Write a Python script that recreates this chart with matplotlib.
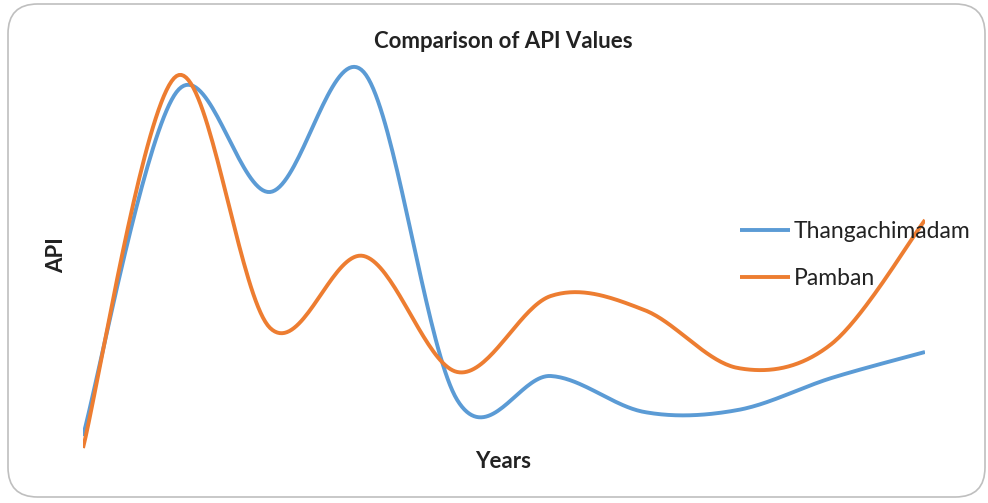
import matplotlib
matplotlib.use("Agg")
import matplotlib.pyplot as plt
import numpy as np
from matplotlib.patches import FancyBboxPatch

plt.rcParams['font.family'] = ['Lato', 'DejaVu Sans']

# valores (unidades arbitrárias de API)
anos = np.arange(10)
thangachimadam = [6, 92, 67, 97, 15, 21, 12, 12.5, 20.5, 27]
pamban = [3, 96, 33, 51, 22, 41, 37.5, 23, 29, 60]


def suavizar(x, y, n=40):
    # curva suave estilo Excel (Catmull-Rom via Bezier)
    p = np.column_stack([x, y]).astype(float)
    p = np.vstack([p[0], p, p[-1]])
    xs, ys = [], []
    t = np.linspace(0, 1, n)[:, None]
    for i in range(1, len(p) - 2):
        b0 = p[i]
        b3 = p[i + 1]
        b1 = p[i] + (p[i + 1] - p[i - 1]) / 6
        b2 = p[i + 1] - (p[i + 2] - p[i]) / 6
        c = ((1 - t) ** 3) * b0 + 3 * ((1 - t) ** 2) * t * b1 + 3 * (1 - t) * t ** 2 * b2 + t ** 3 * b3
        xs.extend(c[:, 0])
        ys.extend(c[:, 1])
    return np.array(xs), np.array(ys)


fig = plt.figure(figsize=(9.88, 5.03), dpi=100)
W, H = 988, 503

borda = FancyBboxPatch((8 / W, 6 / H), 977 / W, 493 / H,
                       boxstyle="round,pad=0,rounding_size=0.03",
                       transform=fig.transFigure, facecolor="none",
                       edgecolor="#BFBFBF", linewidth=1.2, mutation_aspect=W / H,
                       zorder=-1)
fig.patches.append(borda)

ax = fig.add_axes([83 / W, (H - 460) / H, 842 / W, 400 / H])
ax.set_xlim(0, 9)
ax.set_ylim(0, 100)
ax.axis("off")

xb, yb = suavizar(anos, thangachimadam)
xo, yo = suavizar(anos, pamban)
ax.plot(xb, yb, color="#5B9BD5", lw=2.8, solid_capstyle="butt", label="Thangachimadam")
ax.plot(xo, yo, color="#ED7D31", lw=2.8, solid_capstyle="butt", label="Pamban")

fig.text(503 / W, 1 - 42 / H, "Comparison of API Values", ha="center", va="center",
         fontsize=16, fontweight="bold", color="#222222")
fig.text(503 / W, 1 - 461 / H, "Years", ha="center", va="center",
         fontsize=16, fontweight="bold", color="#222222")
fig.text(57 / W, 1 - 255 / H, "API", ha="center", va="center", rotation=90,
         fontsize=16, fontweight="bold", color="#222222")

ax.legend(loc="center left", bbox_to_anchor=(740 / W, 1 - 255 / H),
          bbox_transform=fig.transFigure, frameon=False, fontsize=16.5,
          handlelength=2.2, handletextpad=0.15, labelspacing=1.15,
          borderpad=0, borderaxespad=0, labelcolor="#222222")

fig.savefig("out.png", dpi=100)
